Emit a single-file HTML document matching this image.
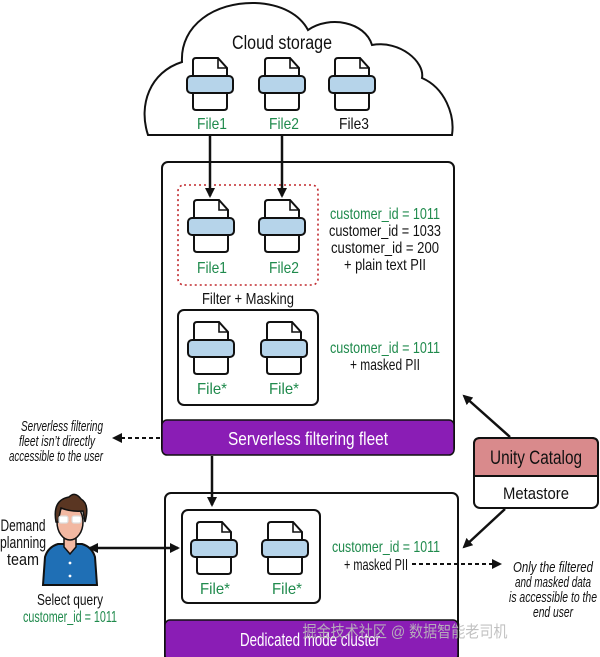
<!DOCTYPE html>
<html><head><meta charset="utf-8"><style>
html,body{margin:0;padding:0;background:#fff;}
svg{display:block;font-family:"Liberation Sans","Noto Sans CJK SC",sans-serif;}
</style></head><body>
<svg width="600" height="657" viewBox="0 0 600 657" xmlns="http://www.w3.org/2000/svg">
<defs>
<g id="doc">
<path d="M-17,3 Q-17,0 -14,0 L8,0 L17,10 L17,49 Q17,52 14,52 L-14,52 Q-17,52 -17,49 Z" fill="#fff" stroke="#111" stroke-width="2"/>
<path d="M8,0 L8,10 L17,10" fill="none" stroke="#111" stroke-width="1.6"/>
<rect x="-23" y="18" width="46" height="17" rx="4" fill="#b6d4ea" stroke="#111" stroke-width="2"/>
</g>
<marker id="ah" markerWidth="10" markerHeight="10" refX="8" refY="5" orient="auto" markerUnits="userSpaceOnUse"><path d="M0,0 L10,5 L0,10 Z" fill="#111"/></marker>
<marker id="ahs" markerWidth="10" markerHeight="10" refX="2" refY="5" orient="auto" markerUnits="userSpaceOnUse"><path d="M10,0 L0,5 L10,10 Z" fill="#111"/></marker>
</defs>
<!-- cloud -->
<path d="M148,135 C138,105 150,72 182,62 C180,25 215,2 255,3 C282,4 300,15 308,30 C330,15 365,22 372,45 C400,40 425,62 422,78 C445,88 455,115 452,135 Z" fill="#fff" stroke="#111" stroke-width="2"/>
<text x="282" y="49" font-size="19" text-anchor="middle" fill="#111" textLength="100" lengthAdjust="spacingAndGlyphs">Cloud storage</text>
<g font-size="16" text-anchor="middle"><text x="212" y="129" fill="#1f8a4c" textLength="30" lengthAdjust="spacingAndGlyphs">File1</text><text x="284" y="129" fill="#1f8a4c" textLength="30" lengthAdjust="spacingAndGlyphs">File2</text><text x="354" y="129" fill="#111" textLength="30" lengthAdjust="spacingAndGlyphs">File3</text></g>
<use href="#doc" x="210" y="58"/><use href="#doc" x="282" y="58"/><use href="#doc" x="352" y="58"/>
<!-- serverless box -->
<rect x="162" y="162" width="292" height="292" rx="6" fill="#fff" stroke="#111" stroke-width="2"/>
<rect x="162" y="420" width="292" height="35" rx="5" fill="#8a1db5" stroke="#111" stroke-width="1.5"/>
<text x="308" y="445" font-size="18" text-anchor="middle" fill="#fff" textLength="160" lengthAdjust="spacingAndGlyphs">Serverless filtering fleet</text>
<rect x="178" y="185" width="140" height="100" rx="6" fill="none" stroke="#c0282d" stroke-width="1.6" stroke-dasharray="2,3"/>
<line x1="210" y1="135" x2="210" y2="196" stroke="#111" stroke-width="2.5" marker-end="url(#ah)"/>
<line x1="282" y1="135" x2="282" y2="196" stroke="#111" stroke-width="2.5" marker-end="url(#ah)"/>
<use href="#doc" x="211" y="200"/><use href="#doc" x="282" y="200"/>
<g font-size="16" text-anchor="middle" fill="#1f8a4c"><text x="212" y="273" textLength="30" lengthAdjust="spacingAndGlyphs">File1</text><text x="284" y="273" textLength="30" lengthAdjust="spacingAndGlyphs">File2</text></g>
<g font-size="16" text-anchor="middle" fill="#111">
<text x="385" y="219" fill="#1f8a4c" textLength="110" lengthAdjust="spacingAndGlyphs">customer_id = 1011</text>
<text x="385" y="236" textLength="112" lengthAdjust="spacingAndGlyphs">customer_id = 1033</text>
<text x="385" y="253" textLength="108" lengthAdjust="spacingAndGlyphs">customer_id = 200</text>
<text x="385" y="270" textLength="82" lengthAdjust="spacingAndGlyphs">+ plain text PII</text>
<text x="248" y="304" textLength="92" lengthAdjust="spacingAndGlyphs">Filter + Masking</text>
<text x="385" y="353" fill="#1f8a4c" textLength="110" lengthAdjust="spacingAndGlyphs">customer_id = 1011</text>
<text x="385" y="370" textLength="70" lengthAdjust="spacingAndGlyphs">+ masked PII</text>
</g>
<rect x="178" y="310" width="140" height="95" rx="6" fill="#fff" stroke="#111" stroke-width="2"/>
<use href="#doc" x="211" y="322"/><use href="#doc" x="284" y="322"/>
<g font-size="16" text-anchor="middle" fill="#1f8a4c"><text x="212" y="394" textLength="30" lengthAdjust="spacingAndGlyphs">File*</text><text x="284" y="394" textLength="30" lengthAdjust="spacingAndGlyphs">File*</text></g>
<!-- left note -->
<g font-size="15" font-style="italic" text-anchor="middle" fill="#111"><text x="62" y="431" textLength="82" lengthAdjust="spacingAndGlyphs">Serverless filtering</text><text x="57" y="446" textLength="76" lengthAdjust="spacingAndGlyphs">fleet isn’t directly</text><text x="56" y="461" textLength="94" lengthAdjust="spacingAndGlyphs">accessible to the user</text></g>
<line x1="160" y1="438" x2="114" y2="438" stroke="#111" stroke-width="2" stroke-dasharray="4,3" marker-end="url(#ah)"/>
<!-- dedicated -->
<rect x="165" y="493" width="293" height="175" rx="6" fill="#fff" stroke="#111" stroke-width="2"/>
<rect x="165" y="620" width="293" height="40" rx="5" fill="#8a1db5" stroke="#111" stroke-width="1.5"/>
<text x="310" y="646" font-size="18" text-anchor="middle" fill="#fff" textLength="140" lengthAdjust="spacingAndGlyphs">Dedicated mode cluster</text>
<line x1="212" y1="456" x2="212" y2="505" stroke="#111" stroke-width="2.5" marker-end="url(#ah)"/>
<rect x="182" y="510" width="138" height="93" rx="6" fill="#fff" stroke="#111" stroke-width="2"/>
<use href="#doc" x="214" y="522"/><use href="#doc" x="285" y="522"/>
<g font-size="16" text-anchor="middle" fill="#1f8a4c"><text x="215" y="594" textLength="30" lengthAdjust="spacingAndGlyphs">File*</text><text x="287" y="594" textLength="30" lengthAdjust="spacingAndGlyphs">File*</text></g>
<text x="386" y="552" font-size="16" text-anchor="middle" fill="#1f8a4c" textLength="108" lengthAdjust="spacingAndGlyphs">customer_id = 1011</text>
<text x="344" y="570" font-size="16" fill="#111" textLength="64" lengthAdjust="spacingAndGlyphs">+ masked PII</text>
<line x1="412" y1="564" x2="500" y2="564" stroke="#111" stroke-width="2" stroke-dasharray="4,3" marker-end="url(#ah)"/>
<g font-size="15" font-style="italic" text-anchor="middle" fill="#111"><text x="553" y="572" textLength="80" lengthAdjust="spacingAndGlyphs">Only the filtered</text><text x="553" y="587" textLength="76" lengthAdjust="spacingAndGlyphs">and masked data</text><text x="553" y="602" textLength="88" lengthAdjust="spacingAndGlyphs">is accessible to the</text><text x="553" y="617" textLength="40" lengthAdjust="spacingAndGlyphs">end user</text></g>
<!-- unity -->
<rect x="474" y="438" width="124" height="70" rx="6" fill="#fff" stroke="#111" stroke-width="2"/>
<path d="M474,476 L474,444 Q474,438 480,438 L592,438 Q598,438 598,444 L598,476 Z" fill="#d98a8c" stroke="#111" stroke-width="2"/>
<text x="536" y="464" font-size="19" text-anchor="middle" fill="#111" textLength="92" lengthAdjust="spacingAndGlyphs">Unity Catalog</text>
<text x="536" y="499" font-size="17" text-anchor="middle" fill="#111" textLength="66" lengthAdjust="spacingAndGlyphs">Metastore</text>
<line x1="510" y1="437" x2="464" y2="396" stroke="#111" stroke-width="2.5" marker-end="url(#ah)"/>
<line x1="505" y1="509" x2="464" y2="547" stroke="#111" stroke-width="2.5" marker-end="url(#ah)"/>
<!-- person -->
<path d="M43,585 L45,557 Q48,547 58,544 L82,544 Q92,547 95,557 L97,585 Z" fill="#1f6fb5" stroke="#111" stroke-width="2"/>
<path d="M64,536 L64,547 L70,554 L76,547 L76,536 Z" fill="#f2b8a2" stroke="#111" stroke-width="1.5"/>
<ellipse cx="70" cy="522" rx="13" ry="18" fill="#f2b8a2" stroke="#111" stroke-width="1.5"/>
<path d="M56,522 Q52,500 69,497 Q75,491 81,499 Q90,504 85,522 L83,511 Q71,512 61,508 L58,522 Z" fill="#5a3622" stroke="#111" stroke-width="1.5"/>
<rect x="59" y="516" width="9" height="7" rx="2" fill="#fff" stroke="#ddd" stroke-width="1.2"/>
<rect x="72" y="516" width="9" height="7" rx="2" fill="#fff" stroke="#ddd" stroke-width="1.2"/>
<circle cx="70" cy="563" r="1.4" fill="#fff"/><circle cx="70" cy="576" r="1.4" fill="#fff"/>
<g font-size="17" text-anchor="middle" fill="#111"><text x="23" y="531" textLength="45" lengthAdjust="spacingAndGlyphs">Demand</text><text x="23" y="548" textLength="46" lengthAdjust="spacingAndGlyphs">planning</text><text x="23" y="565" textLength="32" lengthAdjust="spacingAndGlyphs">team</text></g>
<line x1="90" y1="548" x2="178" y2="548" stroke="#111" stroke-width="2.5" marker-start="url(#ahs)" marker-end="url(#ah)"/>
<text x="70" y="605" font-size="16" text-anchor="middle" fill="#111" textLength="66" lengthAdjust="spacingAndGlyphs">Select query</text>
<text x="70" y="622" font-size="16" text-anchor="middle" fill="#1f8a4c" textLength="94" lengthAdjust="spacingAndGlyphs">customer_id = 1011</text>
<text x="405" y="637" font-size="16" text-anchor="middle" fill="#bbb" opacity="0.9" textLength="205" lengthAdjust="spacingAndGlyphs">掘金技术社区 @ 数据智能老司机</text>
</svg>
</body></html>
